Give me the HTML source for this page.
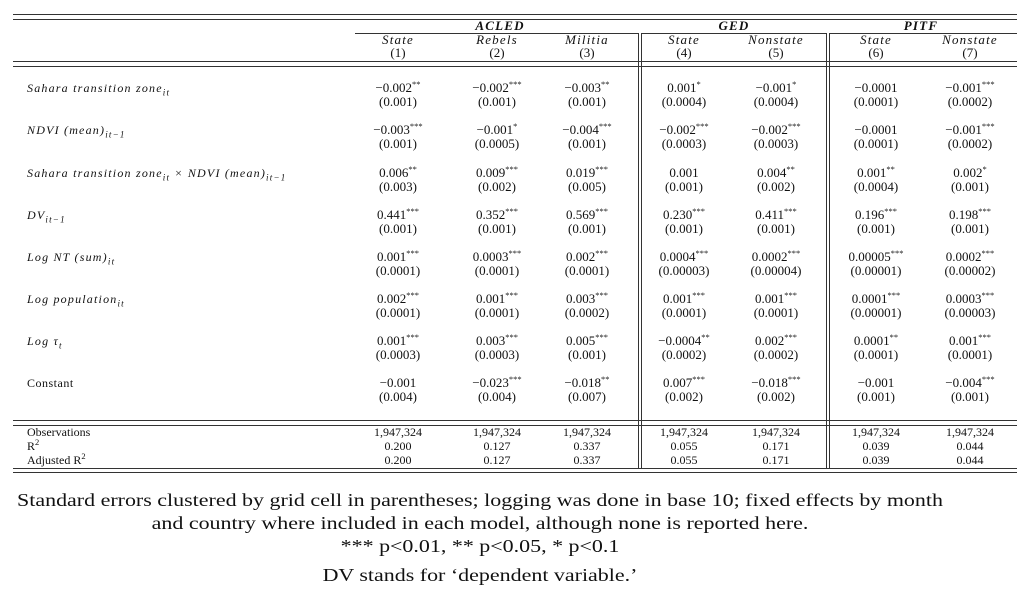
<!DOCTYPE html>
<html><head><meta charset="utf-8"><style>
body{margin:0;width:1024px;height:606px;background:#fff;position:relative;overflow:hidden;font-family:"Liberation Serif",serif;color:#111}
.h{position:absolute;height:1px;background:#333}
.v{position:absolute;width:1px;background:#333}
.t{position:absolute;font-size:12px;line-height:14px;white-space:nowrap}
.c{position:absolute;width:110px;text-align:center;font-size:13px;line-height:14px;white-space:nowrap}
.s .c,.c.s{font-size:12px}
.i{font-style:italic;letter-spacing:1.2px}
sup{font-size:8.5px;vertical-align:5px;line-height:0}
sub{font-size:9px;line-height:0}
.n{position:absolute;left:0;width:960px;text-align:center;font-size:18px;line-height:20px;white-space:nowrap;transform:scaleX(1.22);transform-origin:480px 0}
</style></head><body>
<div class="h" style="left:13px;width:1004px;top:14px"></div>
<div class="h" style="left:13px;width:1004px;top:19px"></div>
<div class="h" style="left:355px;width:283px;top:33px"></div>
<div class="h" style="left:641px;width:185px;top:33px"></div>
<div class="h" style="left:829px;width:188px;top:33px"></div>
<div class="h" style="left:13px;width:1004px;top:61px"></div>
<div class="h" style="left:13px;width:1004px;top:66px"></div>
<div class="h" style="left:13px;width:1004px;top:420px"></div>
<div class="h" style="left:13px;width:1004px;top:425px"></div>
<div class="h" style="left:13px;width:1004px;top:468px"></div>
<div class="h" style="left:13px;width:1004px;top:472px"></div>
<div class="v" style="left:638px;top:33px;height:435px"></div>
<div class="v" style="left:641px;top:33px;height:435px"></div>
<div class="v" style="left:826px;top:33px;height:435px"></div>
<div class="v" style="left:829px;top:33px;height:435px"></div>

<div class="c i" style="left:445px;top:19px;font-weight:bold">ACLED</div>
<div class="c i" style="left:679px;top:19px;font-weight:bold">GED</div>
<div class="c i" style="left:866px;top:19px;font-weight:bold">PITF</div>

<div class="c i" style="left:343px;top:33px">State</div><div class="c" style="left:343px;top:46px">(1)</div>
<div class="c i" style="left:442px;top:33px">Rebels</div><div class="c" style="left:442px;top:46px">(2)</div>
<div class="c i" style="left:532px;top:33px">Militia</div><div class="c" style="left:532px;top:46px">(3)</div>
<div class="c i" style="left:629px;top:33px">State</div><div class="c" style="left:629px;top:46px">(4)</div>
<div class="c i" style="left:721px;top:33px">Nonstate</div><div class="c" style="left:721px;top:46px">(5)</div>
<div class="c i" style="left:821px;top:33px">State</div><div class="c" style="left:821px;top:46px">(6)</div>
<div class="c i" style="left:915px;top:33px">Nonstate</div><div class="c" style="left:915px;top:46px">(7)</div>

<div class="t i" style="left:27px;top:81px">Sahara transition zone<sub>it</sub></div>
<div class="t i" style="left:27px;top:123px">NDVI (mean)<sub>it−1</sub></div>
<div class="t i" style="left:27px;top:166px">Sahara transition zone<sub>it</sub> × NDVI (mean)<sub>it−1</sub></div>
<div class="t i" style="left:27px;top:208px">DV<sub>it−1</sub></div>
<div class="t i" style="left:27px;top:250px">Log NT (sum)<sub>it</sub></div>
<div class="t i" style="left:27px;top:292px">Log population<sub>it</sub></div>
<div class="t i" style="left:27px;top:334px">Log τ<sub>t</sub></div>
<div class="t" style="left:27px;top:376px;letter-spacing:0.5px">Constant</div>

<div class="c" style="left:343px;top:81px">−0.002<sup>**</sup></div><div class="c" style="left:343px;top:95px">(0.001)</div>
<div class="c" style="left:442px;top:81px">−0.002<sup>***</sup></div><div class="c" style="left:442px;top:95px">(0.001)</div>
<div class="c" style="left:532px;top:81px">−0.003<sup>**</sup></div><div class="c" style="left:532px;top:95px">(0.001)</div>
<div class="c" style="left:629px;top:81px">0.001<sup>*</sup></div><div class="c" style="left:629px;top:95px">(0.0004)</div>
<div class="c" style="left:721px;top:81px">−0.001<sup>*</sup></div><div class="c" style="left:721px;top:95px">(0.0004)</div>
<div class="c" style="left:821px;top:81px">−0.0001</div><div class="c" style="left:821px;top:95px">(0.0001)</div>
<div class="c" style="left:915px;top:81px">−0.001<sup>***</sup></div><div class="c" style="left:915px;top:95px">(0.0002)</div>

<div class="c" style="left:343px;top:123px">−0.003<sup>***</sup></div><div class="c" style="left:343px;top:137px">(0.001)</div>
<div class="c" style="left:442px;top:123px">−0.001<sup>*</sup></div><div class="c" style="left:442px;top:137px">(0.0005)</div>
<div class="c" style="left:532px;top:123px">−0.004<sup>***</sup></div><div class="c" style="left:532px;top:137px">(0.001)</div>
<div class="c" style="left:629px;top:123px">−0.002<sup>***</sup></div><div class="c" style="left:629px;top:137px">(0.0003)</div>
<div class="c" style="left:721px;top:123px">−0.002<sup>***</sup></div><div class="c" style="left:721px;top:137px">(0.0003)</div>
<div class="c" style="left:821px;top:123px">−0.0001</div><div class="c" style="left:821px;top:137px">(0.0001)</div>
<div class="c" style="left:915px;top:123px">−0.001<sup>***</sup></div><div class="c" style="left:915px;top:137px">(0.0002)</div>

<div class="c" style="left:343px;top:166px">0.006<sup>**</sup></div><div class="c" style="left:343px;top:180px">(0.003)</div>
<div class="c" style="left:442px;top:166px">0.009<sup>***</sup></div><div class="c" style="left:442px;top:180px">(0.002)</div>
<div class="c" style="left:532px;top:166px">0.019<sup>***</sup></div><div class="c" style="left:532px;top:180px">(0.005)</div>
<div class="c" style="left:629px;top:166px">0.001</div><div class="c" style="left:629px;top:180px">(0.001)</div>
<div class="c" style="left:721px;top:166px">0.004<sup>**</sup></div><div class="c" style="left:721px;top:180px">(0.002)</div>
<div class="c" style="left:821px;top:166px">0.001<sup>**</sup></div><div class="c" style="left:821px;top:180px">(0.0004)</div>
<div class="c" style="left:915px;top:166px">0.002<sup>*</sup></div><div class="c" style="left:915px;top:180px">(0.001)</div>

<div class="c" style="left:343px;top:208px">0.441<sup>***</sup></div><div class="c" style="left:343px;top:222px">(0.001)</div>
<div class="c" style="left:442px;top:208px">0.352<sup>***</sup></div><div class="c" style="left:442px;top:222px">(0.001)</div>
<div class="c" style="left:532px;top:208px">0.569<sup>***</sup></div><div class="c" style="left:532px;top:222px">(0.001)</div>
<div class="c" style="left:629px;top:208px">0.230<sup>***</sup></div><div class="c" style="left:629px;top:222px">(0.001)</div>
<div class="c" style="left:721px;top:208px">0.411<sup>***</sup></div><div class="c" style="left:721px;top:222px">(0.001)</div>
<div class="c" style="left:821px;top:208px">0.196<sup>***</sup></div><div class="c" style="left:821px;top:222px">(0.001)</div>
<div class="c" style="left:915px;top:208px">0.198<sup>***</sup></div><div class="c" style="left:915px;top:222px">(0.001)</div>

<div class="c" style="left:343px;top:250px">0.001<sup>***</sup></div><div class="c" style="left:343px;top:264px">(0.0001)</div>
<div class="c" style="left:442px;top:250px">0.0003<sup>***</sup></div><div class="c" style="left:442px;top:264px">(0.0001)</div>
<div class="c" style="left:532px;top:250px">0.002<sup>***</sup></div><div class="c" style="left:532px;top:264px">(0.0001)</div>
<div class="c" style="left:629px;top:250px">0.0004<sup>***</sup></div><div class="c" style="left:629px;top:264px">(0.00003)</div>
<div class="c" style="left:721px;top:250px">0.0002<sup>***</sup></div><div class="c" style="left:721px;top:264px">(0.00004)</div>
<div class="c" style="left:821px;top:250px">0.00005<sup>***</sup></div><div class="c" style="left:821px;top:264px">(0.00001)</div>
<div class="c" style="left:915px;top:250px">0.0002<sup>***</sup></div><div class="c" style="left:915px;top:264px">(0.00002)</div>

<div class="c" style="left:343px;top:292px">0.002<sup>***</sup></div><div class="c" style="left:343px;top:306px">(0.0001)</div>
<div class="c" style="left:442px;top:292px">0.001<sup>***</sup></div><div class="c" style="left:442px;top:306px">(0.0001)</div>
<div class="c" style="left:532px;top:292px">0.003<sup>***</sup></div><div class="c" style="left:532px;top:306px">(0.0002)</div>
<div class="c" style="left:629px;top:292px">0.001<sup>***</sup></div><div class="c" style="left:629px;top:306px">(0.0001)</div>
<div class="c" style="left:721px;top:292px">0.001<sup>***</sup></div><div class="c" style="left:721px;top:306px">(0.0001)</div>
<div class="c" style="left:821px;top:292px">0.0001<sup>***</sup></div><div class="c" style="left:821px;top:306px">(0.00001)</div>
<div class="c" style="left:915px;top:292px">0.0003<sup>***</sup></div><div class="c" style="left:915px;top:306px">(0.00003)</div>

<div class="c" style="left:343px;top:334px">0.001<sup>***</sup></div><div class="c" style="left:343px;top:348px">(0.0003)</div>
<div class="c" style="left:442px;top:334px">0.003<sup>***</sup></div><div class="c" style="left:442px;top:348px">(0.0003)</div>
<div class="c" style="left:532px;top:334px">0.005<sup>***</sup></div><div class="c" style="left:532px;top:348px">(0.001)</div>
<div class="c" style="left:629px;top:334px">−0.0004<sup>**</sup></div><div class="c" style="left:629px;top:348px">(0.0002)</div>
<div class="c" style="left:721px;top:334px">0.002<sup>***</sup></div><div class="c" style="left:721px;top:348px">(0.0002)</div>
<div class="c" style="left:821px;top:334px">0.0001<sup>**</sup></div><div class="c" style="left:821px;top:348px">(0.0001)</div>
<div class="c" style="left:915px;top:334px">0.001<sup>***</sup></div><div class="c" style="left:915px;top:348px">(0.0001)</div>

<div class="c" style="left:343px;top:376px">−0.001</div><div class="c" style="left:343px;top:390px">(0.004)</div>
<div class="c" style="left:442px;top:376px">−0.023<sup>***</sup></div><div class="c" style="left:442px;top:390px">(0.004)</div>
<div class="c" style="left:532px;top:376px">−0.018<sup>**</sup></div><div class="c" style="left:532px;top:390px">(0.007)</div>
<div class="c" style="left:629px;top:376px">0.007<sup>***</sup></div><div class="c" style="left:629px;top:390px">(0.002)</div>
<div class="c" style="left:721px;top:376px">−0.018<sup>***</sup></div><div class="c" style="left:721px;top:390px">(0.002)</div>
<div class="c" style="left:821px;top:376px">−0.001</div><div class="c" style="left:821px;top:390px">(0.001)</div>
<div class="c" style="left:915px;top:376px">−0.004<sup>***</sup></div><div class="c" style="left:915px;top:390px">(0.001)</div>

<div class="t" style="left:27px;top:425px">Observations</div>
<div class="t" style="left:27px;top:439px">R<sup>2</sup></div>
<div class="t" style="left:27px;top:453px">Adjusted R<sup>2</sup></div>
<div class="s">
<div class="c" style="left:343px;top:425px">1,947,324</div><div class="c" style="left:343px;top:439px">0.200</div><div class="c" style="left:343px;top:453px">0.200</div>
<div class="c" style="left:442px;top:425px">1,947,324</div><div class="c" style="left:442px;top:439px">0.127</div><div class="c" style="left:442px;top:453px">0.127</div>
<div class="c" style="left:532px;top:425px">1,947,324</div><div class="c" style="left:532px;top:439px">0.337</div><div class="c" style="left:532px;top:453px">0.337</div>
<div class="c" style="left:629px;top:425px">1,947,324</div><div class="c" style="left:629px;top:439px">0.055</div><div class="c" style="left:629px;top:453px">0.055</div>
<div class="c" style="left:721px;top:425px">1,947,324</div><div class="c" style="left:721px;top:439px">0.171</div><div class="c" style="left:721px;top:453px">0.171</div>
<div class="c" style="left:821px;top:425px">1,947,324</div><div class="c" style="left:821px;top:439px">0.039</div><div class="c" style="left:821px;top:453px">0.039</div>
<div class="c" style="left:915px;top:425px">1,947,324</div><div class="c" style="left:915px;top:439px">0.044</div><div class="c" style="left:915px;top:453px">0.044</div>
</div>

<div class="n" style="top:490px">Standard errors clustered by grid cell in parentheses; logging was done in base 10; fixed effects by month</div>
<div class="n" style="top:513px">and country where included in each model, although none is reported here.</div>
<div class="n" style="top:536px">*** p&lt;0.01, ** p&lt;0.05, * p&lt;0.1</div>
<div class="n" style="top:565px">DV stands for ‘dependent variable.’</div>
</body></html>
